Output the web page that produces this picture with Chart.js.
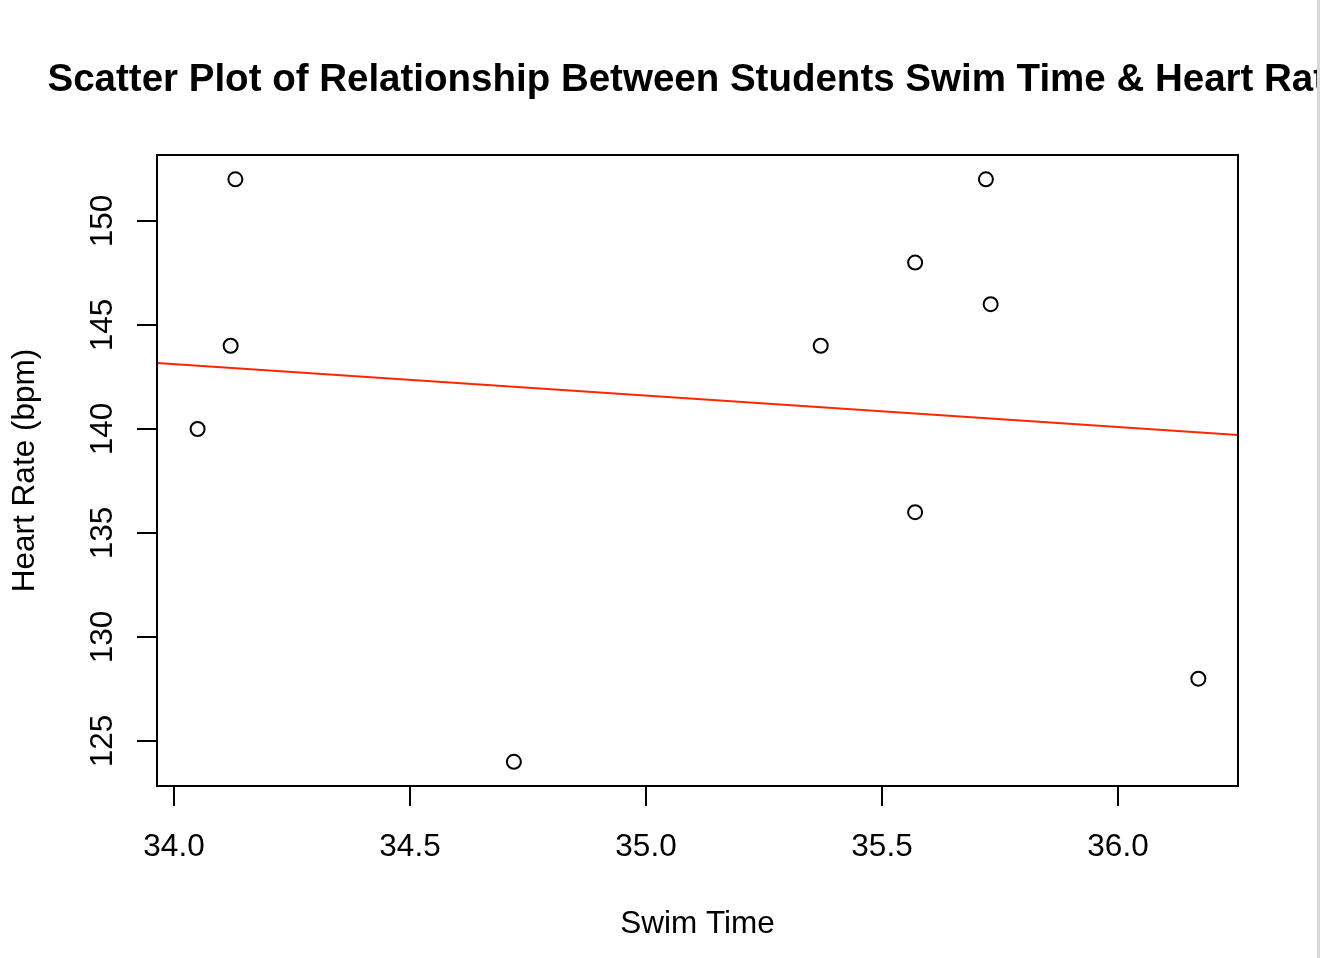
<!DOCTYPE html>
<html>
<head>
<meta charset="utf-8">
<title>Swim Time vs Heart Rate</title>
<script src="https://cdn.jsdelivr.net/npm/chart.js@4.4.1/dist/chart.umd.min.js"></script>
<style>
  html, body { margin: 0; padding: 0; background: #fff; overflow: hidden; }
  canvas { display: block; }
</style>
</head>
<body>
<canvas id="chart" width="1320" height="958"></canvas>
<script>
// values
const swimTime  = [34.13, 34.12, 34.05, 34.72, 35.37, 35.57, 35.57, 35.72, 35.73, 36.17];
const heartRate = [152, 144, 140, 124, 144, 148, 136, 152, 146, 128];

// fitted line (abline), end points at the plot edges
const fitX = [33.964, 36.254];
const fitY = [143.17, 139.71];

const xTicks = [34.0, 34.5, 35.0, 35.5, 36.0];
const yTicks = [125, 130, 135, 140, 145, 150];
const xLimits = [33.964, 36.254];
const yLimits = [122.84, 153.17];

const titleText = 'Scatter Plot of Relationship Between Students Swim Time & Heart Rate';
const xLabel = 'Swim Time';
const yLabel = 'Heart Rate (bpm)';

const FONT = '"Liberation Sans", Arial, Helvetica, sans-serif';

// R-style box, ticks and labels drawn from the chart's own scales
const baseAxes = {
    id: 'baseAxes',
    afterDraw(chart) {
        const { ctx, chartArea: a, scales: { x, y } } = chart;
        ctx.save();
        ctx.strokeStyle = '#000';
        ctx.fillStyle = '#000';
        ctx.lineWidth = 2;
        ctx.strokeRect(a.left, a.top, a.right - a.left, a.bottom - a.top);

        ctx.font = '31.5px ' + FONT;
        ctx.textAlign = 'center';
        ctx.textBaseline = 'alphabetic';
        xTicks.forEach(v => {
            const px = Math.round(x.getPixelForValue(v));
            ctx.beginPath();
            ctx.moveTo(px, a.bottom);
            ctx.lineTo(px, a.bottom + 20);
            ctx.stroke();
            ctx.fillText(v.toFixed(1), px, 856);
        });

        yTicks.forEach(v => {
            const py = Math.round(y.getPixelForValue(v));
            ctx.beginPath();
            ctx.moveTo(a.left, py);
            ctx.lineTo(a.left - 20, py);
            ctx.stroke();
            ctx.save();
            ctx.translate(112, py);
            ctx.rotate(-Math.PI / 2);
            ctx.fillText(String(v), 0, 0);
            ctx.restore();
        });

        const cx = (a.left + a.right) / 2;
        const cy = (a.top + a.bottom) / 2;
        ctx.fillText(xLabel, cx, 933);
        ctx.save();
        ctx.translate(34, cy);
        ctx.rotate(-Math.PI / 2);
        ctx.fillText(yLabel, 0, 0);
        ctx.restore();

        ctx.font = 'bold 38.5px ' + FONT;
        ctx.fillText(titleText, cx, 91);

        // window edge strip seen in the screenshot
        ctx.fillStyle = '#d9d9d9';
        ctx.fillRect(1317, 0, 3, chart.height);
        ctx.restore();
    }
};

new Chart(document.getElementById('chart'), {
    type: 'scatter',
    data: {
        datasets: [
            {
                label: 'Students',
                data: swimTime.map((t, i) => ({ x: t, y: heartRate[i] })),
                pointStyle: 'circle',
                pointRadius: 7,
                pointBorderWidth: 2,
                pointBorderColor: '#000',
                pointBackgroundColor: 'rgba(0,0,0,0)',
                showLine: false
            },
            {
                type: 'line',
                label: 'Fit',
                data: fitX.map((t, i) => ({ x: t, y: fitY[i] })),
                borderColor: '#ff2600',
                borderWidth: 2,
                pointRadius: 0,
                fill: false
            }
        ]
    },
    options: {
        responsive: false,
        animation: false,
        devicePixelRatio: 1,
        layout: { padding: { left: 157, top: 155, right: 82, bottom: 172 } },
        plugins: {
            legend: { display: false },
            title: { display: false },
            tooltip: { enabled: false }
        },
        scales: {
            x: { type: 'linear', display: false, min: xLimits[0], max: xLimits[1] },
            y: { type: 'linear', display: false, min: yLimits[0], max: yLimits[1] }
        }
    },
    plugins: [baseAxes]
});
</script>
</body>
</html>
